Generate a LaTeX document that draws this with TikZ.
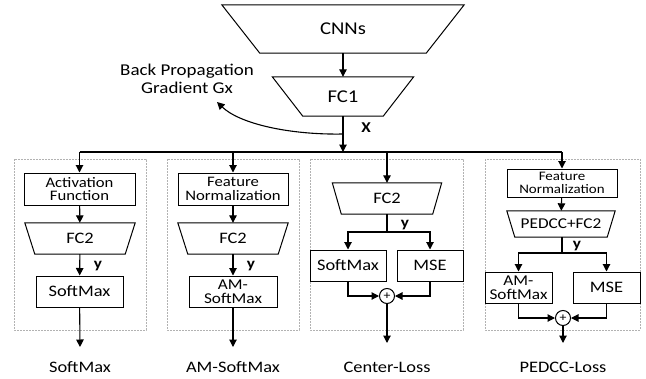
\documentclass[tikz,border=0pt]{standalone}
\usepackage{fontspec}
\setmainfont[FakeStretch=1.15]{Carlito}
\usetikzlibrary{shapes.geometric, arrows.meta}

\tikzstyle{unit} = [rectangle, draw=black, line width=1pt, inner sep=1pt, align=center, font=\fontsize{16}{15}\selectfont]
\tikzstyle{small} = [font=\fontsize{14.5}{13.5}\selectfont]
\tikzstyle{layer} = [rectangle, inner sep=0pt, align=center, font=\fontsize{16}{16}\selectfont]
\tikzstyle{sumnode} = [circle, draw=black, line width=1pt, inner sep=0pt, minimum size=15pt, font=\fontsize{12}{12}\selectfont]
\tikzstyle{arrow} = [line width=1.1pt, -{Triangle[length=7.5pt,width=7.5pt]}]
\tikzstyle{line} = [line width=1.1pt]
\tikzstyle{group} = [draw=gray!60, dashed, dash pattern=on 2pt off 1pt, line width=0.6pt]
\tikzstyle{vec} = [font=\bfseries\fontsize{15}{15}\selectfont]
\tikzstyle{lossname} = [font=\fontsize{16}{16}\selectfont]

% trapezium drawn around a layer node, #2 = inset of the bottom corners
\newcommand{\fclayer}[2]{\draw[line width=1pt] (#1.north west) -- (#1.north east) -- ([xshift=-#2]#1.south east) -- ([xshift=#2]#1.south west) -- cycle;}

\begin{document}
\begin{tikzpicture}[x=1pt, y=-1pt]
	\useasboundingbox (0,0) rectangle (646,378);

	% shared trunk
	\node (cnn) [layer, minimum width=242pt, minimum height=48pt, font=\fontsize{18}{18}\selectfont] at (343,29) {CNNs};
	\node (fc1) [layer, minimum width=141pt, minimum height=39pt, font=\fontsize{18}{18}\selectfont] at (343,96.5) {FC1};
	\fclayer{cnn}{38pt}
	\fclayer{fc1}{30.5pt}
	\draw [arrow] (cnn) -- (fc1);

	\coordinate (bus) at (343,152);
	\coordinate (bpstart) at (343,134);
	\coordinate (bpend) at (217,102);
	\draw [arrow] (fc1) -- (bus);
	\node (x) [vec] at (366,128) {X};
	\node (bp) [align=center, font=\fontsize{16.5}{18}\selectfont] at (187,79) {Back Propagation\\Gradient Gx};
	\draw [arrow] (bpstart) .. controls (290,135) and (240,124) .. (bpend);

	% dashed groups
	\draw [group] (14,159) rectangle (146,330);
	\draw [group] (167,159) rectangle (299,330);
	\draw [group] (310,159) rectangle (463,330);
	\draw [group] (485,159) rectangle (640,330);

	% SoftMax branch
	\node (act) [unit, small, minimum width=111pt, minimum height=32pt] at (79.5,189) {Activation\\Function};
	\node (fca) [layer, minimum width=110pt, minimum height=31pt] at (80,238.5) {FC2};
	\fclayer{fca}{10pt}
	\node (sma) [unit, minimum width=87pt, minimum height=31pt] at (79.5,291.5) {SoftMax};
	\node (ya) [vec] at (98,266) {y};
	\coordinate (outa) at (80,347);
	\node (la) [lossname] at (80,367) {SoftMax};

	% AM-SoftMax branch
	\node (fnb) [unit, small, minimum width=110pt, minimum height=32pt] at (233,189) {Feature\\Normalization};
	\node (fcb) [layer, minimum width=110pt, minimum height=31pt] at (233,238.5) {FC2};
	\fclayer{fcb}{10pt}
	\node (amb) [unit, minimum width=88pt, minimum height=31pt, font=\fontsize{15}{13.5}\selectfont] at (233,291.5) {AM-\\SoftMax};
	\node (yb) [vec] at (251,266) {y};
	\coordinate (outb) at (233,347);
	\node (lb) [lossname] at (233,367) {AM-SoftMax};

	% Center-Loss branch
	\node (fcc) [layer, minimum width=109pt, minimum height=31pt] at (387,198.5) {FC2};
	\fclayer{fcc}{9pt}
	\node (yc) [vec] at (405,225) {y};
	\coordinate (brc) at (387,232);
	\node (smc) [unit, minimum width=76pt, minimum height=31pt] at (348,265.5) {SoftMax};
	\node (msec) [unit, minimum width=66pt, minimum height=31pt] at (430,265.5) {MSE};
	\node (sumc) [sumnode] at (387,296) {+};
	\coordinate (outc) at (387,343);
	\node (lc) [lossname] at (387,367) {Center-Loss};

	% PEDCC-Loss branch
	\node (fnd) [unit, minimum width=110pt, minimum height=28pt, font=\fontsize{13}{12.5}\selectfont] at (562,183) {Feature\\Normalization};
	\node (fcd) [layer, minimum width=108pt, minimum height=26pt, font=\fontsize{15}{15}\selectfont] at (561,224) {PEDCC+FC2};
	\fclayer{fcd}{8pt}
	\node (yd) [vec] at (577,246) {y};
	\coordinate (brd) at (562,253);
	\node (amd) [unit, minimum width=67pt, minimum height=31pt, font=\fontsize{15}{13.5}\selectfont] at (518.5,287.5) {AM-\\SoftMax};
	\node (msed) [unit, minimum width=67pt, minimum height=31pt] at (606.5,287.5) {MSE};
	\node (sumd) [sumnode] at (563,318) {+};
	\coordinate (outd) at (563,343);
	\node (ld) [lossname] at (563,367) {PEDCC-Loss};

	% bus to the four heads
	\draw [line] (bus -| act) -- (bus -| fnd);
	\draw [arrow] (bus -| act) -- (act);
	\draw [arrow] (bus -| fnb) -- (fnb);
	\draw [arrow] (bus -| fcc) -- (fcc);
	\draw [arrow] (bus -| fnd) -- (fnd);

	\draw [arrow] (act) -- (fca);
	\draw [arrow] (fca) -- (sma);
	\draw [arrow] (sma) -- (outa);

	\draw [arrow] (fnb) -- (fcb);
	\draw [arrow] (fcb) -- (amb);
	\draw [arrow] (amb) -- (outb);

	\draw [line] (fcc) -- (brc);
	\draw [arrow] (brc) -| (smc);
	\draw [arrow] (brc) -| (msec);
	\draw [arrow] (smc) |- (sumc);
	\draw [arrow] (msec) |- (sumc);
	\draw [arrow] (sumc) -- (outc);

	\draw [arrow] (fnd) -- (fcd);
	\draw [line] (fcd.south -| brd) -- (brd);
	\draw [arrow] (brd) -| (amd);
	\draw [arrow] (brd) -| (msed);
	\draw [arrow] (amd) |- (sumd);
	\draw [arrow] (msed) |- (sumd);
	\draw [arrow] (sumd) -- (outd);
\end{tikzpicture}
\end{document}
